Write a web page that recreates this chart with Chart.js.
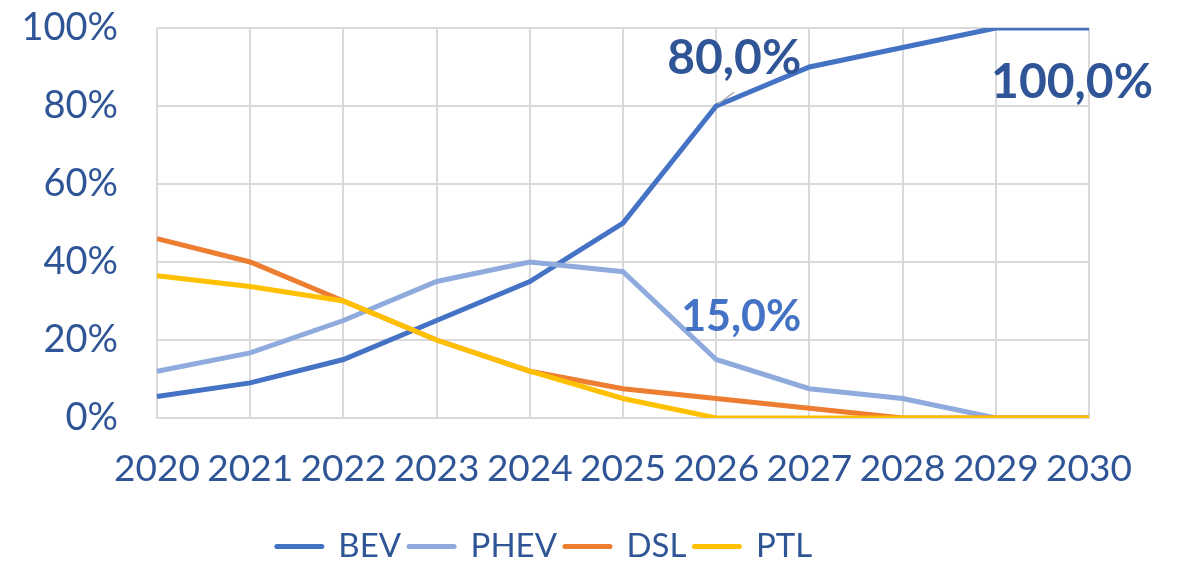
<!DOCTYPE html>
<html>
<head>
<meta charset="utf-8">
<script src="https://cdn.jsdelivr.net/npm/chart.js@4/dist/chart.umd.min.js"></script>
<style>
  html, body { margin: 0; padding: 0; background: #fff; }
  #wrap { width: 1184px; height: 564px; }
</style>
</head>
<body>
<div id="wrap"><canvas id="myChart" width="1184" height="564"></canvas></div>
<script>
// dati
let years = ["2020", "2021", "2022", "2023", "2024", "2025", "2026", "2027", "2028", "2029", "2030"];
let bev = [5.5, 9, 15, 25, 35, 50, 80, 90, 95, 100, 100];
let phev = [12, 16.7, 25, 35, 40, 37.5, 15, 7.5, 5, 0, 0];
let dsl = [46, 40, 30, 20, 12, 7.5, 5, 2.5, 0, 0, 0];
let ptl = [36.5, 33.7, 30, 20, 12, 5, 0, 0, 0, 0, 0];
let yTicks = [0, 20, 40, 60, 80, 100];

// etichette dati: [dataset, indice, testo]
let dataLabels = [
    [0, 6, "80,0%"],
    [0, 10, "100,0%"],
    [1, 6, "15,0%"],
];

let darkBlue = "#2F5597";
let fontFamily = "Lato, 'Open Sans', sans-serif";

// disegna le etichette vicino ai punti
let labelPlugin = {
    id: "labelPlugin",
    afterDatasetsDraw(chart) {
        let ctx = chart.ctx;
        let p80 = chart.getDatasetMeta(0).data[6];
        let p100 = chart.getDatasetMeta(0).data[10];
        let p15 = chart.getDatasetMeta(1).data[6];

        ctx.save();
        // linea guida per 80,0%
        ctx.strokeStyle = "#A6A6A6";
        ctx.lineWidth = 1.5;
        ctx.beginPath();
        ctx.moveTo(p80.x + 2, p80.y - 2);
        ctx.lineTo(p80.x + 18, p80.y - 14);
        ctx.stroke();

        ctx.textAlign = "center";
        ctx.textBaseline = "middle";
        ctx.font = "bold 48px " + fontFamily;
        ctx.fillStyle = darkBlue;
        ctx.fillText(dataLabels[0][2], p80.x + 18, p80.y - 47);
        ctx.fillText(dataLabels[1][2], p100.x - 17, p100.y + 55);

        ctx.font = "bold 43px " + fontFamily;
        ctx.fillStyle = "#4472C4";
        ctx.fillText(dataLabels[2][2], p15.x + 25, p15.y - 42);
        ctx.restore();
    }
};

// order: come in Excel l'ultima serie sta sopra
function serie(label, data, color, order) {
    return {
        label: label,
        data: data,
        borderColor: color,
        backgroundColor: color,
        borderWidth: 5,
        pointRadius: 0,
        pointStyle: "line",
        tension: 0,
        order: order,
    };
}

let ctx = document.getElementById("myChart").getContext("2d");
let myChart = new Chart(ctx, {
    type: "line",
    data: {
        labels: years,
        datasets: [
            serie("BEV", bev, "#4472C4", 4),
            serie("PHEV", phev, "#8FAADC", 3),
            serie("DSL", dsl, "#ED7D31", 2),
            serie("PTL", ptl, "#FFC000", 1),
        ],
    },
    options: {
        responsive: false,
        animation: false,
        layout: {
            padding: { top: 28, right: 95, bottom: -9, left: 0 },
        },
        scales: {
            x: {
                offset: false,
                grid: { color: "#D9D9D9", lineWidth: 2, drawTicks: false },
                border: { color: "#D9D9D9", width: 2 },
                ticks: {
                    color: darkBlue,
                    font: { family: fontFamily, size: 37 },
                    padding: 29,
                    maxRotation: 0,
                    autoSkip: false,
                },
                afterFit(scale) { scale.height = 104; },
            },
            y: {
                min: 0,
                max: 100,
                afterBuildTicks(scale) {
                    scale.ticks = yTicks.map(v => ({ value: v }));
                },
                // tacche invisibili per distanziare le etichette
                grid: { color: "#D9D9D9", lineWidth: 2, drawTicks: true, tickLength: 39, tickColor: "rgba(0,0,0,0)" },
                border: { display: false },
                ticks: {
                    color: darkBlue,
                    font: { family: fontFamily, size: 38 },
                    padding: 0,
                    callback: v => v + "%",
                },
                afterFit(scale) { scale.width = 157; },
            },
        },
        plugins: {
            legend: {
                display: true,
                position: "bottom",
                labels: {
                    color: darkBlue,
                    font: { family: fontFamily, size: 33 },
                    usePointStyle: true,
                    pointStyle: "line",
                    pointStyleWidth: 45,
                    padding: 8,
                    sort: (a, b) => a.datasetIndex - b.datasetIndex,
                    generateLabels(chart) {
                        let items = Chart.defaults.plugins.legend.labels.generateLabels(chart);
                        items.forEach(it => { it.lineCap = "round"; it.lineWidth = 5; });
                        return items;
                    },
                },
            },
            tooltip: { enabled: false },
        },
    },
    plugins: [labelPlugin],
});
</script>
</body>
</html>
